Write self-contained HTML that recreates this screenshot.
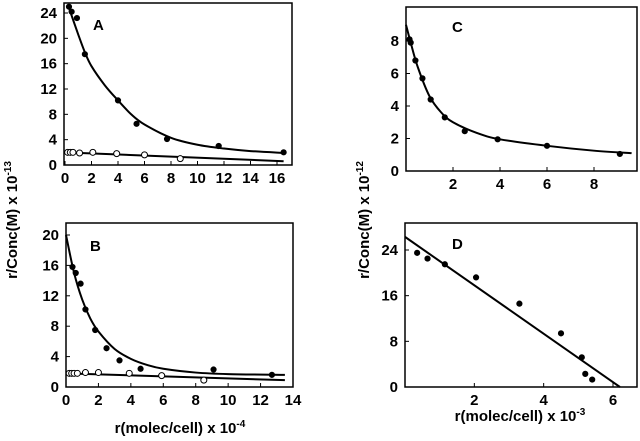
<!DOCTYPE html>
<html><head><meta charset="utf-8"><style>
html,body{margin:0;padding:0;background:#fff;}
svg{display:block;font-family:"Liberation Sans",Arial,sans-serif;font-weight:bold;}
</style></head><body>
<svg id="fig" width="640" height="441" viewBox="0 0 640 441" xmlns="http://www.w3.org/2000/svg">
<text transform="translate(17,220) rotate(-90)" text-anchor="middle" font-size="15">r/Conc(M) x 10<tspan dy="-6" font-size="10">-13</tspan></text>
<text transform="translate(369,220) rotate(-90)" text-anchor="middle" font-size="15">r/Conc(M) x 10<tspan dy="-6" font-size="10">-12</tspan></text>
<text x="180" y="433" text-anchor="middle" font-size="15">r(molec/cell) x 10<tspan dy="-6" font-size="10">-4</tspan></text>
<text x="520" y="421" text-anchor="middle" font-size="15">r(molec/cell) x 10<tspan dy="-6" font-size="10">-3</tspan></text>
</svg>
<script>
// Panel A data
const aFilledX=[0.3,0.5,0.9,1.5,4,5.4,7.7,11.6,16.5];
const aFilledY=[25,24.2,23.2,17.5,10.2,6.5,4.1,3,2];
const aCurveX=[0.3,1,1.5,2,3,4,5,6,8,10,12,14,16.5];
const aCurveY=[24.8,20.6,17.8,15.6,12.6,10.2,8.0,6.4,4.3,3.2,2.6,2.2,1.9];
const aOpenX=[0.2,0.4,0.6,1.1,2.1,3.9,6,8.7];
const aOpenY=[2,2,2,1.9,2,1.8,1.6,1];
const aLineX=[0,16.5];
const aLineY=[2,0.6];
const aXTicks=[0,2,4,6,8,10,12,14,16];
const aYTicks=[0,4,8,12,16,20,24];
// Panel B data
const bFilledX=[0.4,0.6,0.9,1.2,1.8,2.5,3.3,4.6,9.1,12.7];
const bFilledY=[15.8,15,13.6,10.2,7.5,5.1,3.5,2.4,2.3,1.6];
const bCurveX=[0,0.5,1,1.5,2,3,4,5,6,8,10,13.5];
const bCurveY=[20,15,11.5,9,7.3,5,3.7,2.9,2.4,1.9,1.7,1.6];
const bOpenX=[0.2,0.35,0.5,0.7,1.2,2,3.9,5.9,8.5];
const bOpenY=[1.8,1.8,1.8,1.8,1.9,1.9,1.8,1.5,0.9];
const bLineX=[0,13.5];
const bLineY=[1.8,0.9];
const bXTicks=[0,2,4,6,8,10,12,14];
const bYTicks=[0,4,8,12,16,20];
// Panel C data
const cFilledX=[0.15,0.2,0.4,0.7,1.05,1.65,2.5,3.9,6,9.1];
const cFilledY=[8.1,7.9,6.8,5.7,4.4,3.3,2.45,1.95,1.55,1.05];
const cCurveX=[0,0.2,0.5,1,1.5,2,3,4,6,8,9.6];
const cCurveY=[9,7.9,6.4,4.6,3.6,3,2.35,1.95,1.55,1.25,1.1];
const cXTicks=[2,4,6,8];
const cYTicks=[0,2,4,6,8];
// Panel D data
const dFilledX=[0.35,0.65,1.15,2.05,3.3,4.5,5.1,5.2,5.4];
const dFilledY=[23.5,22.5,21.5,19.2,14.6,9.4,5.2,2.3,1.3];
const dLineX=[0,6.2];
const dLineY=[26.3,0];
const dXTicks=[2,4,6];
const dYTicks=[0,8,16,24];

const NS="http://www.w3.org/2000/svg";
const svg=document.getElementById('fig');
function mk(tag,attrs,parent){const e=document.createElementNS(NS,tag);for(const k in attrs)e.setAttribute(k,attrs[k]);(parent||svg).appendChild(e);return e;}
function smooth(P){
  let d='M'+P[0][0]+','+P[0][1];
  for(let i=0;i<P.length-1;i++){
    const p0=P[i-1]||P[i],p1=P[i],p2=P[i+1],p3=P[i+2]||p2;
    const c1=[p1[0]+(p2[0]-p0[0])/6,p1[1]+(p2[1]-p0[1])/6];
    const c2=[p2[0]-(p3[0]-p1[0])/6,p2[1]-(p3[1]-p1[1])/6];
    d+=' C'+c1[0]+','+c1[1]+' '+c2[0]+','+c2[1]+' '+p2[0]+','+p2[1];
  }
  return d;
}
function panel(p){
  const g=mk('g',{});
  
  
  const sx=v=>p.x0+(v-p.xmin)/(p.xmax-p.xmin)*(p.x1-p.x0);
  const sy=v=>p.y0-(v-p.ymin)/(p.ymax-p.ymin)*(p.y0-p.y1);
  const fr=mk('rect',{x:p.bx0,y:p.by0,width:p.bx1-p.bx0,height:p.by1-p.by0,fill:'none',stroke:'#000','stroke-width':1.5},g);
  
  
  p.xt.forEach(t=>{
    const x=sx(t);
    const l=mk('line',{x1:x,x2:x,y1:p.by1,y2:p.by1-4,stroke:'#000','stroke-width':1},g);
    
    
    const tx=mk('text',{x:x,y:p.by1+18,'text-anchor':'middle','font-size':15},g);
    
    
    tx.textContent=t;
  });
  p.yt.forEach(t=>{
    const y=sy(t);
    const l=mk('line',{x1:p.bx0,x2:p.bx0+4,y1:y,y2:y,stroke:'#000','stroke-width':1},g);
    
    
    const tx=mk('text',{x:p.bx0-7,y:y+5,'text-anchor':'end','font-size':15},g);
    
    
    tx.textContent=t;
  });
  const lab=mk('text',{x:p.lx,y:p.ly,'font-size':15},g);
  
  
  lab.textContent=p.id;
  (p.lines||[]).forEach(([X,Y,name])=>{
    const pts=X.map((v,i)=>[sx(v),sy(Y[i])]);
    const pl=mk('path',{d:smooth(pts),fill:'none',stroke:'#000','stroke-width':2,'stroke-linejoin':'round'},g);
    
    
  });
  (p.pts||[]).forEach(([X,Y,open,name])=>{
    X.forEach((v,i)=>{
      const c=mk('circle',{cx:sx(v),cy:sy(Y[i]),r:open?3:2.6,fill:open?'#fff':'#000',stroke:'#000','stroke-width':1},g);
      
      
    });
  });
}
panel({id:'A',x0:65,x1:277,xmin:0,xmax:16,y0:165,y1:13,ymin:0,ymax:24,bx0:64,bx1:292,by0:3,by1:165,lx:93,ly:30,xt:aXTicks,yt:aYTicks,
  lines:[[aCurveX,aCurveY,'fit-curve-filled'],[aLineX,aLineY,'fit-line-open']],
  pts:[[aFilledX,aFilledY,false,'filled-point'],[aOpenX,aOpenY,true,'open-point']]});
panel({id:'B',x0:66,x1:293,xmin:0,xmax:14,y0:387,y1:235,ymin:0,ymax:20,bx0:66,bx1:293,by0:223,by1:387,lx:90,ly:251,xt:bXTicks,yt:bYTicks,
  lines:[[bCurveX,bCurveY,'fit-curve-filled'],[bLineX,bLineY,'fit-line-open']],
  pts:[[bFilledX,bFilledY,false,'filled-point'],[bOpenX,bOpenY,true,'open-point']]});
panel({id:'C',x0:406,x1:594,xmin:0,xmax:8,y0:171,y1:41,ymin:0,ymax:8,bx0:406,bx1:637,by0:7,by1:171,lx:452,ly:32,xt:cXTicks,yt:cYTicks,
  lines:[[cCurveX,cCurveY,'fit-curve']],
  pts:[[cFilledX,cFilledY,false,'filled-point']]});
panel({id:'D',x0:405,x1:613,xmin:0,xmax:6,y0:387,y1:250,ymin:0,ymax:24,bx0:405,bx1:637,by0:223,by1:387,lx:452,ly:249,xt:dXTicks,yt:dYTicks,
  lines:[[dLineX,dLineY,'fit-line']],
  pts:[[dFilledX,dFilledY,false,'filled-point']]});
</script>
</body></html>
